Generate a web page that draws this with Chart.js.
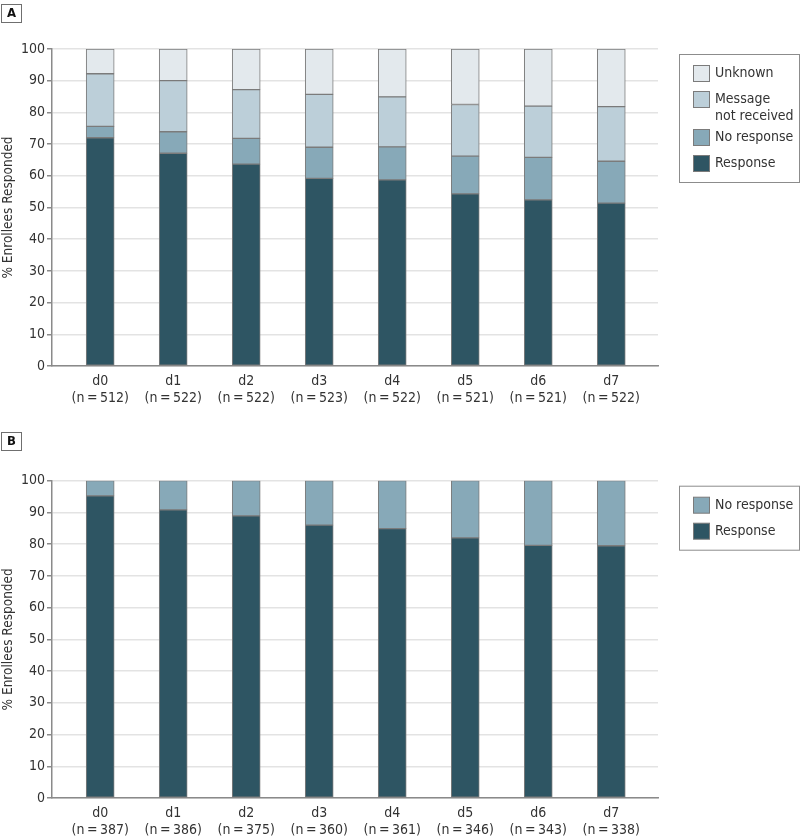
<!DOCTYPE html>
<html>
<head>
<meta charset="utf-8">
<script src="https://cdn.jsdelivr.net/npm/chart.js@4/dist/chart.umd.min.js"></script>
<style>
  html, body { margin: 0; padding: 0; background: #fff; overflow: hidden; }
  body { position: relative; width: 800px; height: 837px; }
  canvas { display: block; position: absolute; left: 0; }
  #panelA { top: 0; }
  #panelB { top: 404px; }
</style>
</head>
<body>
<canvas id="panelA" width="800" height="412"></canvas>
<canvas id="panelB" width="800" height="440"></canvas>
<script>
// Data (percent of enrollees)
const days = ['d0', 'd1', 'd2', 'd3', 'd4', 'd5', 'd6', 'd7'];
const nA = [512, 522, 522, 523, 522, 521, 521, 522];
const nB = [387, 386, 375, 360, 361, 346, 343, 338];

const responseA = [72.0, 67.1, 63.7, 59.2, 58.7, 54.3, 52.4, 51.4];
const noResponseA = [3.6, 6.8, 8.1, 9.8, 10.4, 11.9, 13.4, 13.2];
const notReceivedA = [16.6, 16.1, 15.4, 16.7, 15.8, 16.3, 16.2, 17.2];
const unknownA = [7.8, 10.0, 12.8, 14.3, 15.1, 17.5, 18.0, 18.2];

const responseB = [95.2, 90.8, 88.9, 86.0, 84.9, 82.0, 79.6, 79.5];
const noResponseB = [4.8, 9.2, 11.1, 14.0, 15.1, 18.0, 20.4, 20.5];

const yTicks = [0, 10, 20, 30, 40, 50, 60, 70, 80, 90, 100];

// Colors
const C_RESPONSE = '#2e5563';
const C_NO_RESPONSE = '#87a9b8';
const C_NOT_RECEIVED = '#bccfd9';
const C_UNKNOWN = '#e3e9ed';
const BAR_BORDER = '#7b7b7b';
const TEXT = '#333333';
const FONT = '"DejaVu Sans Condensed", "Liberation Sans", sans-serif';

function series(label, values, color) {
  return {
    label: label,
    data: values.map((v, i) => ({ x: i, y: v })),
    backgroundColor: color,
    borderColor: BAR_BORDER,
    borderWidth: 1,
    borderSkipped: false,
    barThickness: 28
  };
}

// Draws the panel letter and the boxed legend on the right
const panelDecor = {
  id: 'panelDecor',
  afterDraw(chart, args, opts) {
    const ctx = chart.ctx;
    const area = chart.chartArea;
    ctx.save();

    // panel letter box
    ctx.strokeStyle = '#6f6f6f';
    ctx.lineWidth = 1;
    ctx.fillStyle = '#fff';
    ctx.fillRect(1.5, opts.letterY + 0.5, 20, 18);
    ctx.strokeRect(1.5, opts.letterY + 0.5, 20, 18);
    ctx.fillStyle = '#111';
    ctx.font = 'bold 13px ' + FONT;
    ctx.textAlign = 'center';
    ctx.textBaseline = 'middle';
    ctx.fillText(opts.letter, 11.5, opts.letterY + 10);

    // legend (top entry = top of stack)
    const items = chart.data.datasets.slice().reverse();
    const lines = items.map(d => opts.names[d.label] || [d.label]);
    const x0 = area.right + 21;
    const y0 = area.top + 5;
    const w = 120;
    let h = 11;
    lines.forEach((l, i) => {
      h += (i < lines.length - 1) ? 26 + (l.length - 1) * 12 : 16;
    });
    h += 11;
    ctx.strokeStyle = '#8c8c8c';
    ctx.strokeRect(x0 + 0.5, y0 + 0.5, w, h);

    ctx.font = '14px ' + FONT;
    ctx.textAlign = 'left';
    let y = y0 + 11;
    items.forEach((d, i) => {
      ctx.fillStyle = d.backgroundColor;
      ctx.fillRect(x0 + 14.5, y + 0.5, 16, 16);
      ctx.strokeStyle = BAR_BORDER;
      ctx.strokeRect(x0 + 14.5, y + 0.5, 16, 16);
      ctx.fillStyle = TEXT;
      lines[i].forEach((t, k) => ctx.fillText(t, x0 + 36, y + 8.5 + k * 17));
      y += 26 + (lines[i].length - 1) * 12;
    });
    ctx.restore();
  }
};

function makePanel(id, letter, letterY, top, bottom, datasets, nList) {
  new Chart(document.getElementById(id), {
    type: 'bar',
    data: { datasets: datasets },
    plugins: [panelDecor],
    options: {
      responsive: false,
      animation: false,
      layout: { padding: { top: top, right: 142, bottom: bottom, left: 0 } },
      plugins: {
        legend: { display: false },
        tooltip: { enabled: false },
        panelDecor: {
          letter: letter,
          letterY: letterY,
          names: { 'Message not received': ['Message', 'not received'] }
        }
      },
      scales: {
        x: {
          type: 'linear',
          stacked: true,
          offset: false,
          bounds: 'data',
          min: -0.66,
          max: 7.64,
          afterBuildTicks: (scale) => { scale.ticks = days.map((d, i) => ({ value: i })); },
          afterFit: (scale) => { scale.height = 40; },
          grid: { display: false, drawTicks: false },
          border: { display: true, color: '#8a8a8a', width: 1.5 },
          ticks: {
            autoSkip: false,
            maxRotation: 0,
            padding: 7,
            color: TEXT,
            font: { family: FONT, size: 14 },
            callback: (v) => [days[v], '(n\u2009=\u2009' + nList[v] + ')']
          }
        },
        y: {
          stacked: true,
          min: 0,
          max: 100,
          afterBuildTicks: (scale) => { scale.ticks = yTicks.map(v => ({ value: v })); },
          afterFit: (scale) => { scale.width = 52; },
          grid: { color: '#e3e3e3', lineWidth: 1.5, tickLength: 5, tickColor: '#8a8a8a' },
          border: { display: true, color: '#8a8a8a', width: 1.5 },
          ticks: { padding: 2, color: TEXT, font: { family: FONT, size: 14 } },
          title: {
            display: true,
            text: '% Enrollees Responded',
            color: TEXT,
            padding: { top: 0, bottom: 0 },
            font: { family: FONT, size: 13.5 }
          }
        }
      }
    }
  });
}

makePanel('panelA', 'A', 4, 49, 6, [
  series('Response', responseA, C_RESPONSE),
  series('No response', noResponseA, C_NO_RESPONSE),
  series('Message not received', notReceivedA, C_NOT_RECEIVED),
  series('Unknown', unknownA, C_UNKNOWN)
], nA);

makePanel('panelB', 'B', 28, 76.7, 6, [
  series('Response', responseB, C_RESPONSE),
  series('No response', noResponseB, C_NO_RESPONSE)
], nB);
</script>
</body>
</html>
